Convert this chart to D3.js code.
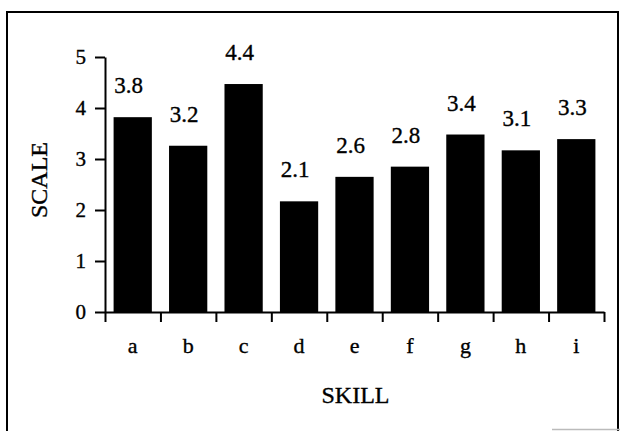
<!DOCTYPE html>
<html>
<head>
<meta charset="utf-8">
<script src="https://cdn.jsdelivr.net/npm/d3@7"></script>
<style>
    body { margin: 0; background: #fff; }
    svg { display: block; }
    .axis path, .axis line { stroke: #000; stroke-width: 2px; }
    svg text { font-family: 'Liberation Serif', 'Times New Roman', serif; fill: #000; stroke: #000; stroke-width: 0.35px; }
</style>
</head>
<body>
<div id="chart"><svg width="620" height="431"></svg></div>
<script>
// chart data
const skills = ['a', 'b', 'c', 'd', 'e', 'f', 'g', 'h', 'i'];
// bar heights as drawn (printed labels are rounded down)
const barValues = [3.82, 3.26, 4.47, 2.17, 2.65, 2.85, 3.48, 3.17, 3.39];
const valueLabels = ['3.8', '3.2', '4.4', '2.1', '2.6', '2.8', '3.4', '3.1', '3.3'];
const yTicks = [0, 1, 2, 3, 4, 5];

// defining factory function
function SkillChart(_) {

    let _margin = {t:57, r:16, b:119, l:105};
    let _xLabel = 'SKILL';
    let _yLabel = 'SCALE';

    function exports(data) {

        const root = this;
        const svg = d3.select(root).select('svg');

        // setup/layout variables
        const width = +svg.attr('width');
        const height = +svg.attr('height');
        const margin = _margin;
        const w = width - (margin.r + margin.l);
        const h = height - (margin.t + margin.b);

        // frame around the figure (scan border)
        svg.append('path')
            .attr('d', `M7,431 V12 H618 V431`)
            .style('fill', 'none')
            .style('stroke', '#000')
            .style('stroke-width', '2px');
        svg.append('line')
            .attr('x1', 552).attr('x2', 620)
            .attr('y1', 429.5).attr('y2', 429.5)
            .style('stroke', '#bbb')
            .style('stroke-width', '1.5px');

        const plot = svg.append('g')
            .attr('transform', `translate(${margin.l},${margin.t})`);

        // setting up scales
        const scaleX = d3.scaleBand()
            .domain(data.skills)
            .range([0, w])
            .paddingInner(0.31)
            .paddingOuter(0.155);
        // category boundaries for the tick marks
        const scaleEdge = d3.scaleLinear()
            .domain([0, data.skills.length])
            .range([0, w]);
        const scaleY = d3.scaleLinear()
            .domain([0, 5])
            .range([h, 0]);

        const rows = data.skills.map((s, i) => ({skill:s, value:data.values[i], label:data.labels[i]}));

        // bars
        plot.selectAll('.bar')
            .data(rows)
            .enter()
            .append('rect')
            .classed('bar', true)
            .attr('x', d => scaleX(d.skill))
            .attr('y', d => scaleY(d.value))
            .attr('width', scaleX.bandwidth())
            .attr('height', d => h - scaleY(d.value))
            .style('fill', '#000');

        // value labels above bars
        plot.selectAll('.value-label')
            .data(rows)
            .enter()
            .append('text')
            .classed('value-label', true)
            .attr('x', d => scaleX(d.skill) + scaleX.bandwidth() / 2 - 4)
            .attr('y', d => scaleY(d.value) - 24)
            .attr('text-anchor', 'middle')
            .style('font-size', '23px')
            .text(d => d.label);

        // y axis
        plot.append('g')
            .attr('class', 'axis y-axis')
            .call(d3.axisLeft(scaleY)
                .tickValues(data.yTicks)
                .tickFormat(d3.format('d'))
                .tickSize(10)
                .tickSizeOuter(0)
                .tickPadding(9))
            .call(g => g.selectAll('text').style('font-size', '21px'));

        // x axis: line with ticks at category boundaries
        plot.append('g')
            .attr('class', 'axis x-axis')
            .attr('transform', `translate(0,${h})`)
            .call(d3.axisBottom(scaleEdge)
                .ticks(data.skills.length)
                .tickFormat('')
                .tickSize(10)
                .tickSizeOuter(0));

        // category labels
        plot.append('g')
            .attr('class', 'x-labels')
            .attr('transform', `translate(0,${h})`)
            .call(d3.axisBottom(scaleX).tickSize(0).tickPadding(25))
            .call(g => g.select('.domain').remove())
            .call(g => g.selectAll('text').style('font-size', '22px'));

        // axis titles
        svg.append('text')
            .attr('x', margin.l + w / 2 + 1)
            .attr('y', 403)
            .attr('text-anchor', 'middle')
            .style('font-size', '24px')
            .text(_xLabel);
        svg.append('text')
            .attr('transform', `translate(47,180) rotate(-90)`)
            .attr('text-anchor', 'middle')
            .style('font-size', '24px')
            .text(_yLabel);
    }

    exports.margin = function(_) {
        // _ is an object with t,r,b,l as properties
        if (typeof _ === 'undefined') return _margin;
        _margin = _;
        return this;
    };

    return exports;
}

const chart = SkillChart();
d3.select('#chart')
    .each(function() {
        chart.call(this, {skills:skills, values:barValues, labels:valueLabels, yTicks:yTicks});
    });
</script>
</body>
</html>
